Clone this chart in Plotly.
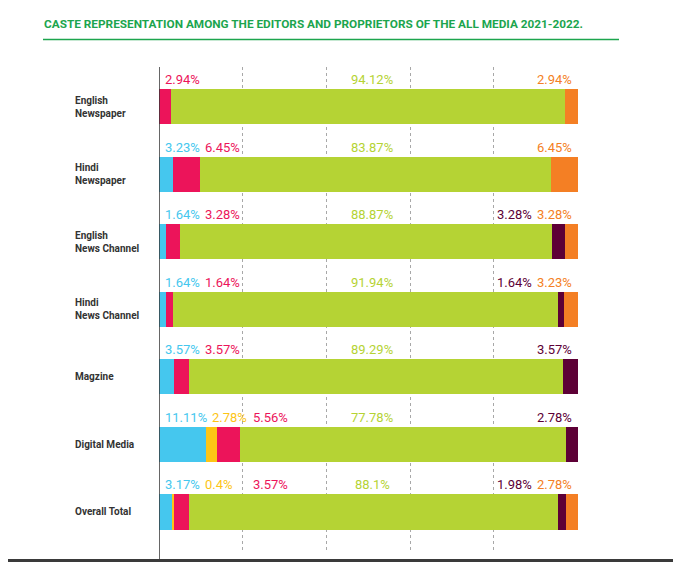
import plotly.graph_objects as go

# media categories, top to bottom
categories = ["English Newspaper", "Hindi Newspaper", "English News Channel",
              "Hindi News Channel", "Magzine", "Digital Media", "Overall Total"]
category_labels = ["English<br>Newspaper", "Hindi<br>Newspaper", "English<br>News Channel",
                   "Hindi<br>News Channel", "Magzine", "Digital Media", "Overall Total"]

# share of editors / proprietors (%) per caste group
sc = [0, 3.23, 1.64, 1.64, 3.57, 11.11, 3.17]
st = [0, 0, 0, 0, 0, 2.78, 0.4]
obc = [2.94, 6.45, 3.28, 1.64, 3.57, 5.56, 3.57]
general = [94.12, 83.87, 88.87, 91.94, 89.29, 77.78, 88.1]
minority = [0, 0, 3.28, 1.64, 3.57, 2.78, 1.98]
unknown = [2.94, 6.45, 3.28, 3.23, 0, 0, 2.78]

BLUE = "#45c7ee"
YELLOW = "#fdc515"
PINK = "#ec145a"
GREEN = "#b5d334"
MAROON = "#5d0036"
ORANGE = "#f47f24"
TITLE_GREEN = "#1ca54e"

# the page body adds an 8px margin, so work in page pixels and shift
PAGE_W, PAGE_H = 681, 562
OFF = 8
W, H = PAGE_W - OFF, PAGE_H - OFF
PW, PH = 419, 484
L, T = 159 - OFF, 67 - OFF
R, B = W - L - PW, H - T - PH


def paper_x(px):
    return (px - OFF - L) / PW


def paper_y(py):
    return (T + PH - (py - OFF)) / PH


def data_x(px):
    return px / PW * 100


def text_w(s):
    # rough width of a label in Roboto 13px
    w = 0
    for ch in s:
        if ch.isdigit():
            w += 0.562
        elif ch == ".":
            w += 0.263
        else:
            w += 0.733
    return w * 13


def fmt(v):
    return f"{v:g}%"


series = [
    ("SC", sc, BLUE),
    ("ST", st, YELLOW),
    ("OBC", obc, PINK),
    ("General", general, GREEN),
    ("Minority", minority, MAROON),
    ("Unknown", unknown, ORANGE),
]

fig = go.Figure()
for name, vals, col in series:
    fig.add_trace(go.Bar(
        y=categories, x=vals, name=name, orientation="h",
        marker=dict(color=col, line=dict(width=0)),
        width=0.52, hovertemplate="%{y}: %{x}%<extra>" + name + "</extra>",
    ))

annotations = []
label_font = "Roboto"
gap = 5
left_slots = [3.5, 44, 92.5]  # px from axis
right_slots = [415, 375]

for i, cat in enumerate(categories):
    # left-hand labels (SC, ST, OBC)
    prev_end = -100
    k = 0
    for vals, col in [(sc, BLUE), (st, YELLOW), (obc, PINK)]:
        if vals[i] <= 0:
            continue
        txt = fmt(vals[i])
        start = max(left_slots[k], prev_end + gap)
        prev_end = start + text_w(txt)
        k += 1
        annotations.append(dict(x=data_x(start), y=cat, xref="x", yref="y", text=txt,
                                xanchor="left", yanchor="middle", yshift=27, showarrow=False,
                                font=dict(family=label_font, size=13, color=col)))
    # centre label (General)
    annotations.append(dict(x=51, y=cat, xref="x", yref="y", text=fmt(general[i]),
                            xanchor="center", yanchor="middle", yshift=27, showarrow=False,
                            font=dict(family=label_font, size=13, color=GREEN)))
    # right-hand labels
    prev_start = 10000
    k = 0
    for vals, col in [(unknown, ORANGE), (minority, MAROON)]:
        if vals[i] <= 0:
            continue
        txt = fmt(vals[i])
        end = min(right_slots[k], prev_start - gap)
        prev_start = end - text_w(txt)
        k += 1
        annotations.append(dict(x=data_x(end), y=cat, xref="x", yref="y", text=txt,
                                xanchor="right", yanchor="middle", yshift=27, showarrow=False,
                                font=dict(family=label_font, size=13, color=col)))
    # category name on the left
    annotations.append(dict(x=paper_x(73), y=cat, xref="paper", yref="y",
                            text=category_labels[i], xanchor="left", yanchor="middle",
                            align="left", showarrow=False,
                            font=dict(family="Roboto", size=10, color="#333333", weight="bold")))

annotations.append(dict(
    x=paper_x(42), y=paper_y(23.5), xref="paper", yref="paper",
    text="CASTE REPRESENTATION AMONG THE EDITORS AND PROPRIETORS OF THE ALL MEDIA 2021-2022.",
    xanchor="left", yanchor="middle", showarrow=False,
    font=dict(family="Roboto", size=11.8, color=TITLE_GREEN, weight="bold"),
))

shapes = [
    # title underline
    dict(type="line", xref="paper", yref="paper", x0=paper_x(43), x1=paper_x(619),
         y0=paper_y(39.5), y1=paper_y(39.5), line=dict(color=TITLE_GREEN, width=1.5)),
    # left axis line
    dict(type="line", xref="x", yref="paper", x0=0, x1=0, y0=paper_y(560), y1=1,
         line=dict(color="#333333", width=1.5)),
    # page edge at the bottom
    dict(type="line", xref="paper", yref="paper", x0=paper_x(0), x1=paper_x(PAGE_W),
         y0=paper_y(560.5), y1=paper_y(560.5), line=dict(color="#3a3a3a", width=3)),
]

fig.update_layout(
    width=W, height=H,
    margin=dict(l=L, r=R, t=T, b=B),
    barmode="stack",
    showlegend=False,
    plot_bgcolor="white",
    paper_bgcolor="white",
    annotations=annotations,
    shapes=shapes,
    xaxis=dict(range=[0, 100.1], tickvals=[20, 40, 60, 80, 100], showticklabels=False,
               showgrid=True, gridcolor="#a8a8a8", griddash="dot", gridwidth=1,
               zeroline=False, showline=False, ticks=""),
    yaxis=dict(categoryorder="array", categoryarray=categories, range=[6.578, -0.585],
               showticklabels=False, showgrid=False, zeroline=False, showline=False, ticks=""),
)

fig.write_html("out.html")
